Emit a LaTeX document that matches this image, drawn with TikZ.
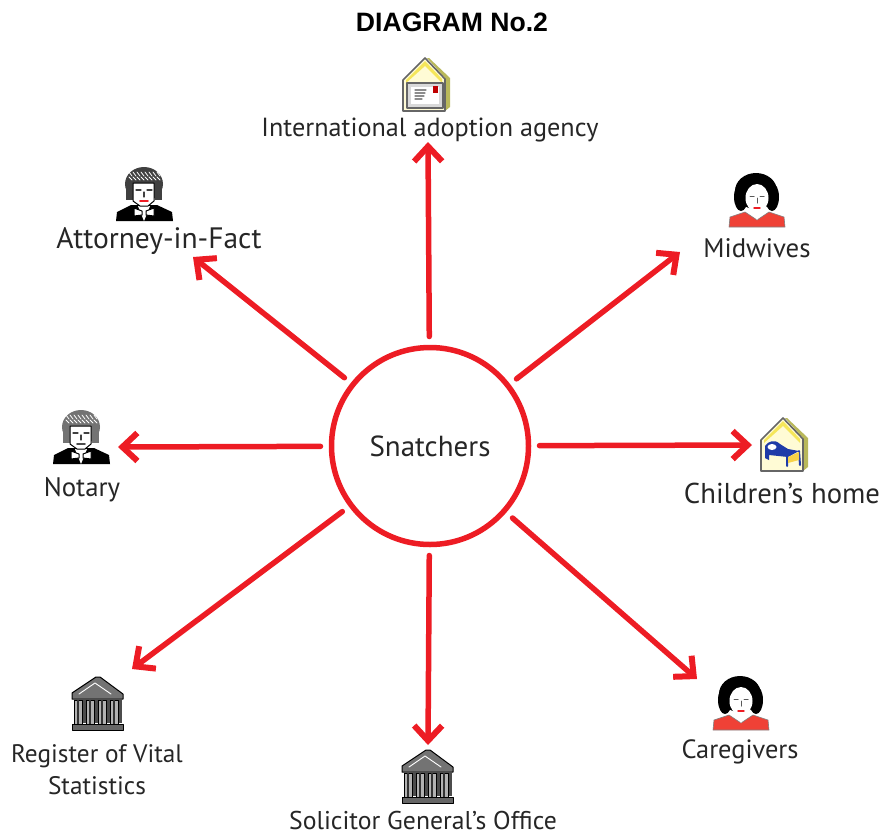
\documentclass[tikz,border=0pt]{standalone}
\usepackage{fontspec}
\setmainfont{PT Sans}
\newfontfamily\titlefont{Liberation Sans}
\usetikzlibrary{arrows.meta}
\definecolor{linered}{HTML}{ED1C24}
\definecolor{shirtred}{HTML}{EF4136}
\definecolor{roofyellow}{HTML}{F5E65A}
\definecolor{wallcream}{HTML}{FFFBD5}
\definecolor{sideolive}{HTML}{B9B85A}
\definecolor{bedblue}{HTML}{1F3BA8}
\tikzset{
  caption/.style={font=\fontsize{#1}{32}\selectfont, text=black!85, inner sep=0pt, align=center},
  redline/.style={draw=linered, line width=5.5pt},
  % house seen from the front, used by two icons
  pics/houseicon/.style={code={
    \fill[sideolive] (1,-27)--(3,-27)--(24,-7)--(24,22)--(19,26)--(19,-7)--cycle;
    \fill[wallcream,draw=black!60,line width=1.6pt] (-23,-5)--(-1,-27)--(19,-6)--(19,26)--(-23,26)--cycle;
    \fill[roofyellow] (-20,-5)--(-1,-24)--(16,-6)--(16,-2)--(-1,-19)--(-20,-2)--cycle;
  }},
  pics/lettericon/.style={code={
    \pic {houseicon};
    \fill[black!15,draw=black!60,line width=1.6pt] (-19,-2) rectangle (17,23);
    \fill[white] (-15,2) rectangle (13,19);
    \fill[red!75!black] (7,1) rectangle (12,8);
    \foreach \yy/\xx in {5/0,8/-1,11/-2,14/-4}
      \draw[black!45,line width=1.2pt] (-11,\yy)--(\xx,\yy);
  }},
  pics/bedicon/.style={code={
    \pic {houseicon};
    \draw[bedblue,line width=2pt] (15,6)--(16,20) (3,10)--(3,21);
    \fill[bedblue] (-19,13)--(-19,1) .. controls (-16,-4) and (-9,-6) .. (-4,-1)--(4,4)--(15,6)--(4,12)--(-15,10)--(-15,15)--cycle;
    \fill[white] (-12,2) ellipse (4.5 and 3);
    \fill[roofyellow!80!orange] (4,12)--(15,7)--(15,15)--(4,18)--cycle;
  }},
  pics/womanicon/.style={code={
    \fill[shirtred,draw=black!50,line width=.6pt] (-28,26)--(-27,16)--(-12,11)--(0,19)--(12,11)--(27,16)--(28,26)--cycle;
    \fill[black] (-1,-10) ellipse (21 and 18);
    \fill[black] (-16,-4) ellipse (7 and 14);
    \fill[black] (15,-4) ellipse (7 and 14);
    \fill[white] (-5,10)--(0,19)--(5,10)--cycle;
    \fill[white] (0,-3) ellipse (11.5 and 14);
    \draw[black!65,line width=1pt] (-7,-5)--(-3,-5) (3,-5)--(7,-5) (0,-3)--(0,2);
    \draw[linered,line width=1.4pt] (-3,7)--(3,7);
  }},
  % #1 hair, #2 lips
  pics/manicon/.style 2 args={code={
    \fill[black] (-28,27)--(-27,18)--(-13,11)--(13,11)--(28,18)--(29,27)--cycle;
    \fill[white] (-6,12)--(0,27)--(6,12)--cycle;
    \fill[white,draw=black,line width=1pt] (-10,14)--(-2,17)--(-2,21)--(-10,22)--cycle (10,14)--(2,17)--(2,21)--(10,22)--cycle;
    \fill[#1] (0,-10) ellipse (19 and 17);
    \fill[#1] (-18,-10) rectangle (-11,6);
    \fill[#1] (11,-10) rectangle (18,6);
    \foreach \xx in {-15,-11,...,13}
      \draw[white,line width=.8pt] (\xx,-22)--(\xx+3,-18) (\xx,-17)--(\xx+3,-14);
    \fill[white,draw=black,line width=1pt] (-11,-11)--(10,-11)--(10,7)--(4,12)--(-4,12)--(-11,7)--cycle;
    \draw[black!75,line width=1.2pt] (-8,-4)--(-3,-4) (3,-4)--(8,-4) (0,-2)--(0,3);
    \draw[#2,line width=1.8pt] (-4,7)--(4,7);
  }},
  pics/bankicon/.style={code={
    \fill[black!55,draw=black,line width=1pt] (-25,-10)--(-1,-26)--(3,-26)--(26,-9)--(26,-4)--(-25,-4)--cycle;
    \draw[white,line width=.9pt] (-18,-9)--(-2,-20)--(14,-9);
    \fill[black!70] (-23,-4) rectangle (25,20);
    \foreach \xx in {-19,-7,5,17}{
      \fill[black!30,draw=black,line width=1pt] (\xx-4,-3) rectangle (\xx+4,21);
      \fill[black!80] (\xx-1,-3) rectangle (\xx+1,21);
    }
    \fill[black!60,draw=black,line width=1pt] (-25,21) rectangle (26,27);
  }},
}
\begin{document}
\begin{tikzpicture}[x=1pt,y=-1pt,>={Straight Barb[length=15pt,width=28pt,line width=6pt]}, line join=round, line cap=round]
    \useasboundingbox (0,0) rectangle (880,836);

    \node[font=\titlefont\bfseries\fontsize{26.6}{30}\selectfont, inner sep=0pt] (title) at (452,22) {DIAGRAM No.2};

    \node[circle, redline, minimum size=197pt, outer sep=11pt, caption=29] (snatchers) at (430,446) {Snatchers};

    \node[caption=26.2] (agency) at (430,130) {International adoption agency};
    \node[caption=29.5] (attorney) at (159,241) {Attorney-in-Fact};
    \node[caption=26.8] (midwives) at (757,248) {Midwives};
    \node[caption=28.7] (home) at (782,493) {Children's home};
    \node[caption=26.4] (caregivers) at (740,752) {Caregivers};
    \node[caption=25.7] (solicitor) at (423,820) {Solicitor General's Office};
    \node[caption=25.3] (register) at (97,770) {Register of Vital\\Statistics};
    \node[caption=26.8] (notary) at (82,490) {Notary};

    \pic at (426,85) {lettericon};
    \pic at (144,194) {manicon={black!75}{linered}};
    \pic at (757,201) {womanicon};
    \pic at (784,445) {bedicon};
    \pic at (741,704) {womanicon};
    \pic at (427,776) {bankicon};
    \pic at (97,703) {bankicon};
    \pic at (81,437) {manicon={black!55}{black!70}};

    \coordinate (toAgency) at (428,142);
    \coordinate (toAttorney) at (193,257);
    \coordinate (toMidwives) at (680,252);
    \coordinate (toHome) at (752,445);
    \coordinate (toCaregivers) at (697,679);
    \coordinate (toSolicitor) at (428,745);
    \coordinate (toRegister) at (132,669);
    \coordinate (toNotary) at (118,447);

    \foreach \tip in {toAgency,toAttorney,toMidwives,toHome,toCaregivers,toSolicitor,toRegister,toNotary}
        \draw[->,redline] (snatchers)--(\tip);
\end{tikzpicture}
\end{document}
